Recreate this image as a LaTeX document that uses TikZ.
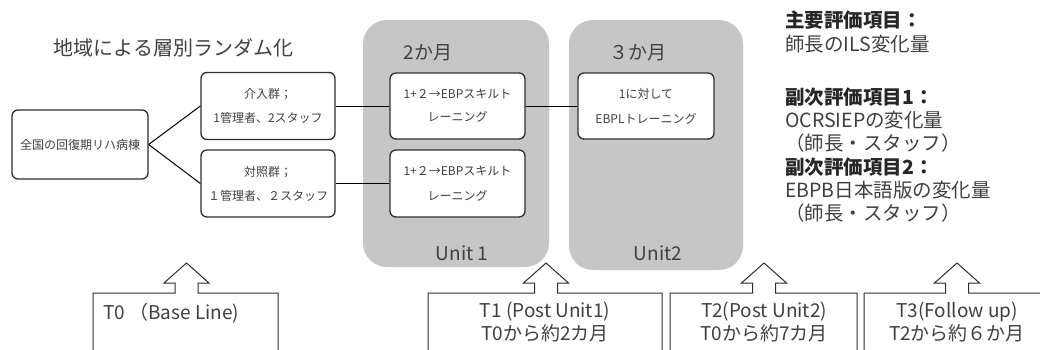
\documentclass[tikz,border=0pt]{standalone}
\usepackage{fontspec}
\setmainfont{Noto Sans CJK JP}
\usetikzlibrary{calc}
\definecolor{txt}{HTML}{404040}
\definecolor{head}{HTML}{262626}
\definecolor{unitfill}{HTML}{C6C6C6}
\definecolor{edge}{HTML}{2E2E2E}
\tikzset{
  wbox/.style={draw=edge, line width=1.3pt, fill=white, rounded corners=6pt,
    inner sep=0pt, align=center, text=txt,
    font=\fontsize{12}{24}\selectfont},
  unitbg/.style={fill=unitfill, draw=none, rounded corners=24pt},
  link/.style={draw=black, line width=1pt},
  bigtxt/.style={text=txt, inner sep=0pt, font=\fontsize{19}{23}\selectfont},
  evaltxt/.style={text=txt, inner sep=0pt, anchor=west, font=\fontsize{19.5}{23}\selectfont},
  evalhead/.style={evaltxt, text=head, font=\fontsize{19.5}{23}\selectfont\bfseries},
  callout/.style={draw=edge, line width=1pt},
  timetxt/.style={text=txt, inner sep=0pt, align=center, font=\fontsize{19}{23}\selectfont}
}
% up-arrow callout: #1 name, #2 left edge, #3 right edge, #4 arrow tip x
\newcommand\timecallout[4]{%
  \coordinate (#1) at (#4,263);
  \draw[callout] (#2,356) |- ({#4-11.5},293) |- ({#4-22.5},283) -- (#1)
    -- ({#4+22.5},283) -| ({#4+11.5},293) -| (#3,356);}
\begin{document}
\begin{tikzpicture}[x=1pt,y=-1pt]
\useasboundingbox (0,0) rectangle (1040,349);
\fill[white] (0,0) rectangle (1040,349);

% title
\node[bigtxt, font=\fontsize{20}{23}\selectfont] (title) at (173.5,48) {地域による層別ランダム化};

% unit backgrounds
\fill[unitbg] (363,20) rectangle (549,267);
\fill[unitbg] (569,20) rectangle (743,270);
\node[bigtxt] (m2) at (428,53) {2か月};
\node[bigtxt] (m3) at (638,53) {３か月};
\node[bigtxt] (u1) at (462,253) {Unit 1};
\node[bigtxt] (u2) at (658,253) {Unit2};

% boxes
\node[wbox, minimum width=136pt, minimum height=69pt] (src) at (80,144.5) {全国の回復期リハ病棟};
\node[wbox, minimum width=134pt, minimum height=67pt] (int) at (268,106) {介入群；\\1管理者、2スタッフ};
\node[wbox, minimum width=134pt, minimum height=67pt] (ctl) at (268,183.5) {対照群；\\１管理者、２スタッフ};
\node[wbox, minimum width=135pt, minimum height=66pt, font=\fontsize{12}{23}\selectfont] (u1a) at (457.5,106) {1+２→EBPスキルト\\レーニング};
\node[wbox, minimum width=135pt, minimum height=67pt, font=\fontsize{12}{25}\selectfont] (u1b) at (457.5,183.5) {1+２→EBPスキルト\\レーニング};
\node[wbox, minimum width=136pt, minimum height=66pt, font=\fontsize{12}{25}\selectfont] (u2a) at (646,106) {1に対して\\EBPLトレーニング};

% connectors
\draw[link] (src.east) -- (int.west);
\draw[link] (src.east) -- (ctl.west);
\draw[link] (int.east) -- (u1a.west);
\draw[link] (u1a.east) -- (u2a.west);
\draw[link] (ctl.east) -- (u1b.west);

% evaluation items
\node[evalhead] (e1) at (785,20) {主要評価項目：};
\node[evaltxt] (e2) at (785,44) {師長のILS変化量};
\node[evalhead] (e3) at (785,97) {副次評価項目1：};
\node[evaltxt] (e4) at (785,120) {OCRSIEPの変化量};
\node[evaltxt] (e5) at (785,143) {（師長・スタッフ）};
\node[evalhead] (e6) at (785,167) {副次評価項目2：};
\node[evaltxt] (e7) at (785,190) {EBPB日本語版の変化量};
\node[evaltxt] (e8) at (785,213) {（師長・スタッフ）};

% time points
\timecallout{tip0}{93}{278}{186.5}
\timecallout{tip1}{428}{662}{546}
\timecallout{tip2}{670}{857}{764}
\timecallout{tip3}{864}{1050}{957}
\node[timetxt, anchor=west] (t0) at (103,313) {T0 （Base Line)};
\node[timetxt] (t1) at (545,321.5) {T1 (Post Unit1)\\T0から約2カ月};
\node[timetxt] (t2) at (764,321.5) {T2(Post Unit2)\\T0から約7カ月};
\node[timetxt] (t3) at (957,321.5) {T3(Follow up)\\T2から約６か月};
\end{tikzpicture}
\end{document}
